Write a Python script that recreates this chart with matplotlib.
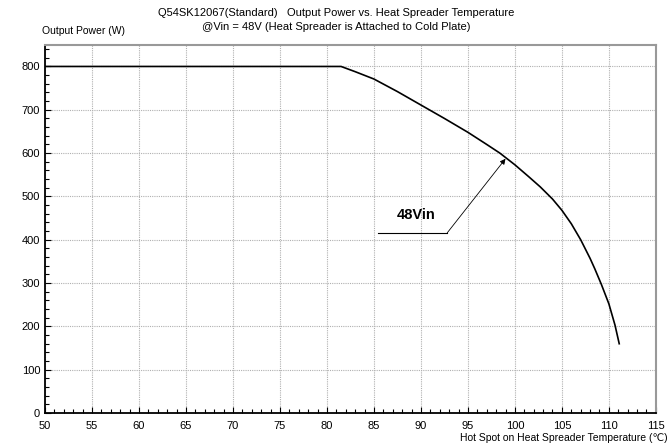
"""Derating curve: output power vs. heat spreader hot-spot temperature."""

import matplotlib

matplotlib.use("Agg")
import matplotlib.pyplot as plt
from matplotlib.ticker import MultipleLocator

# values
temp_c = [50, 81.5, 83, 85, 87.5, 90, 92.5, 95, 97, 98.4, 100, 101.5, 102.7,
          104, 105, 106, 107, 108, 108.5, 109.2, 110, 110.65, 111.1]
power_w = [800, 800, 788, 771, 742, 711, 680, 648, 620, 600, 573, 545, 522,
           494, 468, 437, 400, 357, 333, 297, 252, 203, 160]

x_ticks = list(range(50, 116, 5))
y_ticks = list(range(0, 801, 100))

label_text = "48Vin"
arrow_tip = (99.0, 587)
arrow_elbow = (92.8, 416)
leader_start = (85.4, 416)
label_pos = (89.5, 458)

plt.rcParams["font.family"] = ["Liberation Sans", "DejaVu Sans"]

fig = plt.figure(figsize=(6.72, 4.48), dpi=100)
ax = fig.add_axes([0.067, 0.078, 0.909, 0.822])

ax.plot(temp_c, power_w, color="black", linewidth=1.2, solid_joinstyle="round")

# leader line + arrow for the curve label
ax.plot([leader_start[0], arrow_elbow[0]], [leader_start[1], arrow_elbow[1]],
        color="black", linewidth=0.8)
ax.annotate("", xy=arrow_tip, xytext=arrow_elbow,
            arrowprops=dict(arrowstyle="-|>", color="black", lw=0.6,
                            mutation_scale=8, shrinkA=0, shrinkB=0))
ax.text(*label_pos, label_text, fontsize=10.5, fontweight="bold",
        ha="center", va="center")

ax.set_xlim(50, 115)
ax.set_ylim(0, 850)
ax.set_xticks(x_ticks)
ax.set_yticks(y_ticks)
ax.xaxis.set_minor_locator(MultipleLocator(1))
ax.yaxis.set_minor_locator(MultipleLocator(20))
ax.tick_params(which="both", direction="in", labelsize=8)
ax.tick_params(which="major", length=4, width=0.8)
ax.tick_params(which="minor", length=3, width=0.8)
ax.tick_params(axis="x", pad=6)

ax.grid(which="major", color="#b0b0b0", linestyle=(0, (1, 1)), linewidth=0.8)

for side in ("left", "bottom"):
    ax.spines[side].set_color("black")
    ax.spines[side].set_linewidth(1.3)
for side in ("top", "right"):
    ax.spines[side].set_color("#999999")
    ax.spines[side].set_linewidth(1.5)

fig.text(0.5, 0.972, "Q54SK12067(Standard)   Output Power vs. Heat Spreader Temperature",
         ha="center", va="center", fontsize=8)
fig.text(0.5, 0.94, "@Vin = 48V (Heat Spreader is Attached to Cold Plate)",
         ha="center", va="center", fontsize=8)
fig.text(0.062, 0.93, "Output Power (W)", ha="left", va="center", fontsize=7.5)
fig.text(0.993, 0.022, "Hot Spot on Heat Spreader Temperature (\u2103)",
         ha="right", va="center", fontsize=7.5)

fig.savefig("out.png", dpi=100)
plt.close(fig)
